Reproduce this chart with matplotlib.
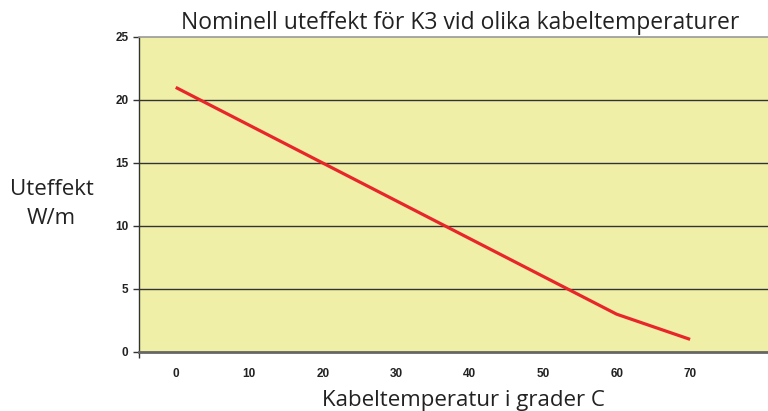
import numpy as np
import matplotlib.pyplot as plt

# Data
temp = [0, 10, 20, 30, 40, 50, 60, 70]
effekt = [21, 18, 15, 12, 9, 6, 3, 1]
yticks = [0, 5, 10, 15, 20, 25]

fig = plt.figure(figsize=(7.68, 4.11), dpi=100)
ax = fig.add_axes([0.181, 0.1436, 0.819, 0.7664])
ax.set_facecolor('#EFEFA8')

ax.plot(temp, effekt, color='#E8262A', linewidth=2.3, solid_capstyle='butt',
        zorder=3)

ax.set_xlim(-5, 80.6)
ax.set_ylim(0, 25)
ax.set_yticks(yticks)
ax.set_xticks(temp)
ax.set_xticks([-5], minor=True)

# gridlines
for v in yticks[1:-1]:
    ax.axhline(v, color='#333333', linewidth=1.0, zorder=1)

ax.spines['right'].set_visible(False)
ax.spines['top'].set_color('#999999')
ax.spines['top'].set_linewidth(1.2)
ax.spines['bottom'].set_color('#666666')
ax.spines['bottom'].set_linewidth(2.0)
ax.spines['left'].set_color('#333333')
ax.spines['left'].set_linewidth(1.0)

ax.tick_params(axis='y', length=4, width=1, color='#333333', pad=3.5,
               labelsize=8.5)
ax.tick_params(axis='x', which='major', length=0, pad=11.5, labelsize=8.5)
ax.tick_params(axis='x', which='minor', length=4, width=1, color='#333333')
for lab in ax.get_xticklabels() + ax.get_yticklabels():
    lab.set_fontfamily('Liberation Sans')
    lab.set_fontweight('bold')
    lab.set_color('#222222')

fig.text(0.599, 0.929, 'Nominell uteffekt för K3 vid olika kabeltemperaturer',
         ha='center', va='baseline', fontsize=16.5, family='Open Sans',
         color='#222222')
fig.text(0.603, 0.012, 'Kabeltemperatur i grader C',
         ha='center', va='baseline', fontsize=16, family='Open Sans',
         color='#222222')
fig.text(0.067, 0.5255, 'Uteffekt', ha='center', va='baseline',
         fontsize=16, family='Open Sans', color='#222222')
fig.text(0.067, 0.455, 'W/m', ha='center', va='baseline',
         fontsize=16, family='Open Sans', color='#222222')

fig.savefig('out.png', dpi=100)
